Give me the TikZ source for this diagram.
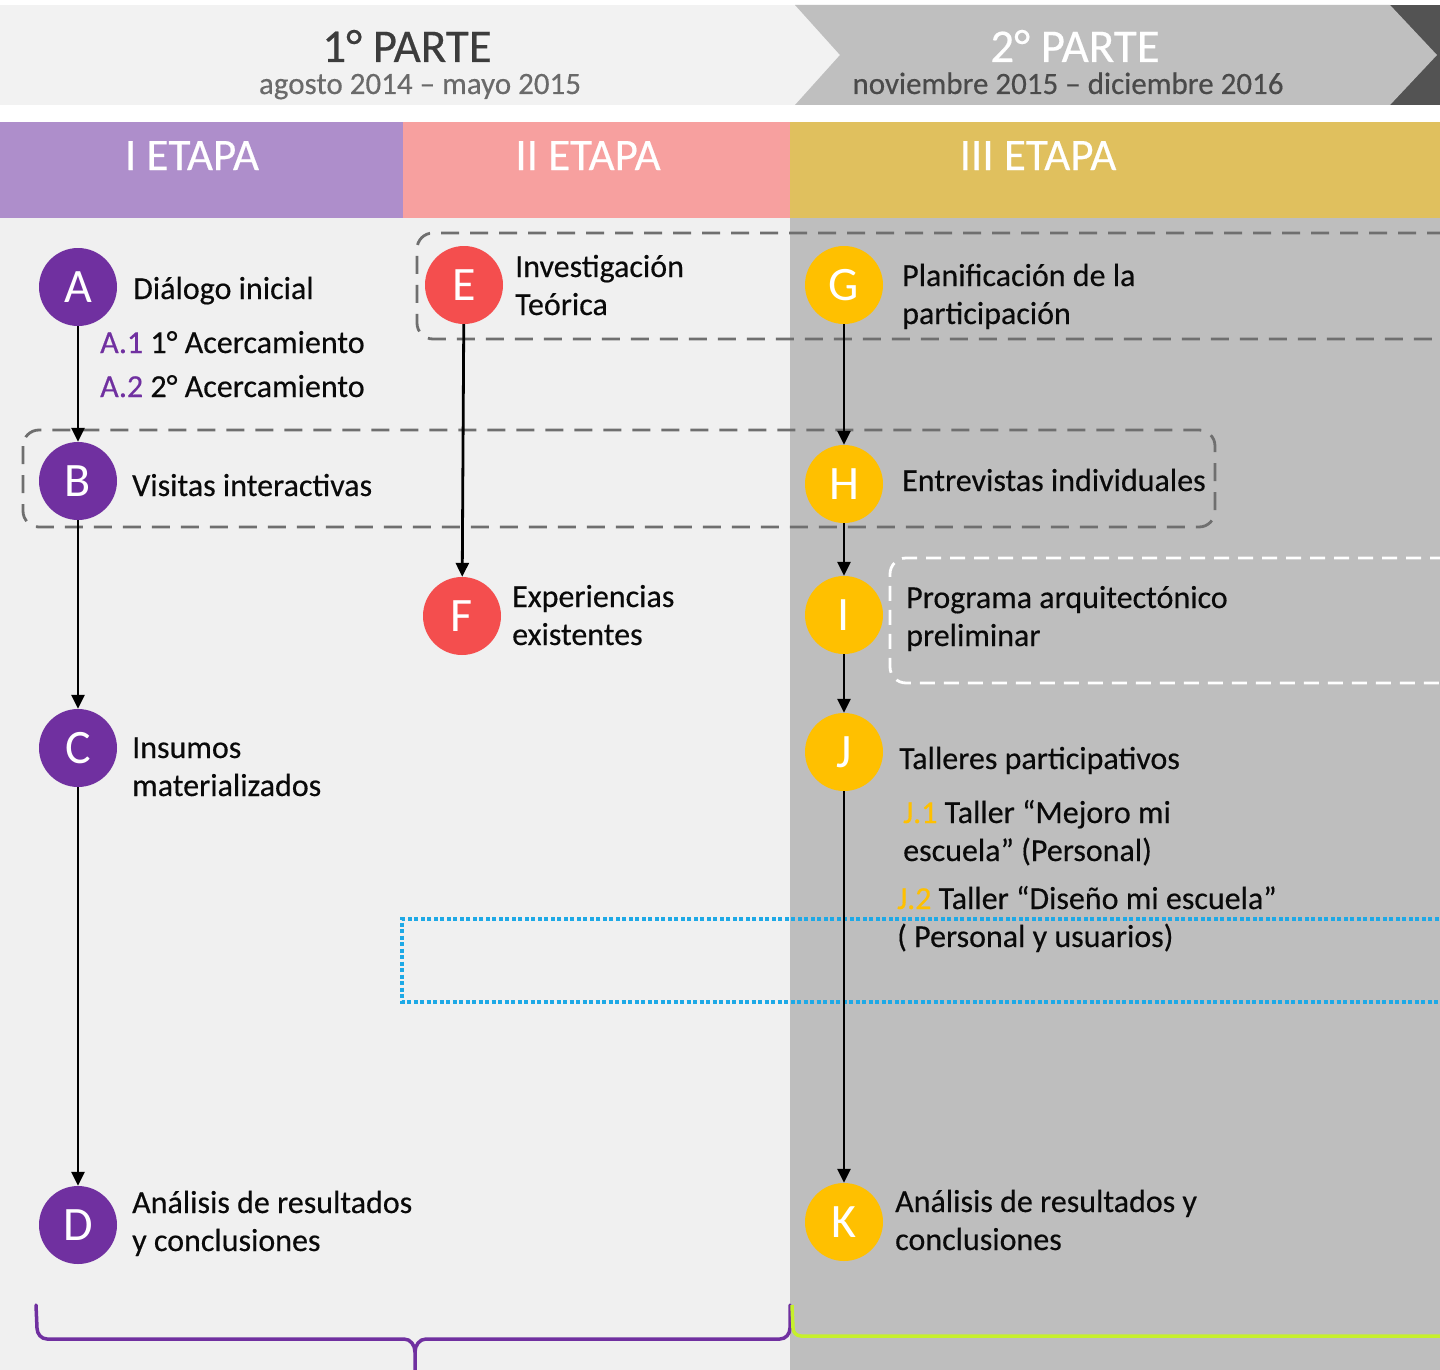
\documentclass[tikz,border=0pt]{standalone}
\usepackage{fontspec}
\setmainfont{Carlito}
\newfontfamily\thickfam{Carlito}[FakeBold=0.35]
\usetikzlibrary{arrows.meta}
\definecolor{bgL}{HTML}{F0F0F0}
\definecolor{bgR}{HTML}{BEBEBE}
\definecolor{hdr}{HTML}{F2F2F2}
\definecolor{chev}{HTML}{BFBFBF}
\definecolor{darkc}{HTML}{535353}
\definecolor{etA}{HTML}{AE8ECB}
\definecolor{etB}{HTML}{F7A09F}
\definecolor{etC}{HTML}{E0C05E}
\definecolor{purp}{HTML}{7030A0}
\definecolor{redc}{HTML}{F44E4E}
\definecolor{gold}{HTML}{FFC000}
\definecolor{txt}{HTML}{0A0A0A}
\definecolor{subg}{HTML}{6A6A6A}
\definecolor{subd}{HTML}{4A4A4A}
\definecolor{headc}{HTML}{3C3C3C}
\definecolor{dashg}{HTML}{6F6F6F}
\definecolor{bluec}{HTML}{1EA9E6}
\definecolor{limec}{HTML}{C6F02C}
\newcommand\myBody{\thickfam\fontsize{32}{38}\selectfont}
\newcommand\myCirc{\fontsize{48}{50}\selectfont}
\newcommand\myHead{\thickfam\fontsize{47}{50}\selectfont}
\newcommand\mySub{\thickfam\fontsize{31}{36}\selectfont}
\newcommand\myEtapa{\thickfam\fontsize{45}{50}\selectfont}
\newcommand\mlines[1]{\begin{tabular}[t]{@{}l@{}}#1\end{tabular}}
\begin{document}
\begin{tikzpicture}[x=1pt,y=-1pt,
  circ/.style={circle, minimum size=78pt, inner sep=0pt, text=white, font=\myCirc},
  lbl/.style={anchor=base west, inner sep=0pt, font=\myBody, text=txt},
  head/.style={anchor=base, inner sep=0pt, font=\myHead},
  subh/.style={anchor=base, inner sep=0pt, font=\mySub},
  etapa/.style={anchor=base, inner sep=0pt, font=\myEtapa, text=white},
  arr/.style={line width=2.8pt, draw=black, -{Triangle[length=14pt,width=13pt]}},
  gbox/.style={draw=dashg, line width=2.8pt, dash pattern=on 18pt off 11pt, rounded corners=16pt},
  wbox/.style={draw=white, line width=2.8pt, dash pattern=on 15pt off 9pt, rounded corners=16pt},
  bbox/.style={draw=bluec, line width=3.2pt, dash pattern=on 4pt off 2.5pt},
  brace/.style={line width=3.5pt, line cap=round, line join=round}]
\useasboundingbox (0,0) rectangle (1440,1370);
% backgrounds
\fill[white] (0,0) rectangle (1440,1370);
\fill[bgL] (0,218) rectangle (790,1370);
\fill[bgR] (790,218) rectangle (1440,1370);
\fill[hdr] (0,5) rectangle (1440,105);
\fill[darkc] (1390,5) rectangle (1440,105);
\fill[chev] (795,5) -- (1390,5) -- (1437,55) -- (1390,105) -- (795,105) -- (840,55) -- cycle;
\fill[etA] (0,122) rectangle (403,218);
\fill[etB] (403,122) rectangle (790,218);
\fill[etC] (790,122) rectangle (1440,218);
% header texts
\node[head, text=headc] (p1) at (407,62) {1° PARTE};
\node[subh, text=subg] (d1) at (420,94) {agosto 2014 – mayo 2015};
\node[head, text=white] (p2) at (1075,62) {2° PARTE};
\node[subh, text=subd] (d2) at (1068,94) {noviembre 2015 – diciembre 2016};
\node[etapa] (e1) at (192,170) {I ETAPA};
\node[etapa] (e2) at (588,170) {II ETAPA};
\node[etapa] (e3) at (1038,170) {III ETAPA};
% dashed boxes
\draw[gbox] (1445,233) -- (417,233) -- (417,339) -- (1445,339);
\draw[gbox] (23,430) rectangle (1215,527);
\draw[wbox] (1445,558) -- (890,558) -- (890,683) -- (1445,683);
\draw[bbox] (1445,919) -- (402,919) -- (402,1002) -- (1445,1002);
% circles
\node[circ, fill=purp] (A) at (78,287) {A};
\node[circ, fill=purp] (B) at (78,481) {B};
\node[circ, fill=purp] (C) at (78,748) {C};
\node[circ, fill=purp] (D) at (78,1225) {D};
\node[circ, fill=redc] (E) at (464,285) {E};
\node[circ, fill=redc] (F) at (462,616) {F};
\node[circ, fill=gold] (G) at (844,285) {G};
\node[circ, fill=gold] (H) at (844,484) {H};
\node[circ, fill=gold] (I) at (844,615) {I};
\node[circ, fill=gold] (J) at (844,752) {J};
\node[circ, fill=gold] (K) at (844,1222) {K};
% arrows
\draw[arr] (A) -- (B);
\draw[arr] (B) -- (C);
\draw[arr] (C) -- (D);
\draw[arr] (E) -- (F);
\draw[arr] (G) -- (H);
\draw[arr] (H) -- (I);
\draw[arr] (I) -- (J);
\draw[arr] (J) -- (K);
% labels
\node[lbl] (tA) at (133,299) {Diálogo inicial};
\node[lbl] (tA1) at (100,353) {\textcolor{purp}{A.1} 1° Acercamiento};
\node[lbl] (tA2) at (100,397) {\textcolor{purp}{A.2} 2° Acercamiento};
\node[lbl] (tB) at (132,496) {Visitas interactivas};
\node[lbl] (tC) at (132,758) {\mlines{Insumos\\materializados}};
\node[lbl] (tD) at (132,1213) {\mlines{Análisis de resultados\\y conclusiones}};
\node[lbl] (tE) at (515,277) {\mlines{Investigación\\Teórica}};
\node[lbl] (tF) at (512,607) {\mlines{Experiencias\\existentes}};
\node[lbl] (tG) at (902,286) {\mlines{Planificación de la\\participación}};
\node[lbl] (tH) at (902,491) {Entrevistas individuales};
\node[lbl] (tI) at (906,608) {\mlines{Programa arquitectónico\\preliminar}};
\node[lbl] (tJ) at (899,769) {Talleres participativos};
\node[lbl] (tJ1) at (903,823) {\mlines{\textcolor{gold}{J.1} Taller “Mejoro mi\\escuela” (Personal)}};
\node[lbl] (tJ2) at (897,909) {\mlines{\textcolor{gold}{J.2} Taller “Diseño mi escuela”\\( Personal y usuarios)}};
\node[lbl] (tK) at (895,1212) {\mlines{Análisis de resultados y\\conclusiones}};
% braces
\draw[brace, draw=purp] (36,1305) -- (37,1328) to[out=-90,in=180] (47,1339) -- (404,1339)
  to[out=0,in=90] (415,1352) -- (415,1372);
\draw[brace, draw=purp] (415,1352) to[out=90,in=180] (426,1339) -- (780,1339)
  to[out=0,in=-90] (790,1328) -- (790,1305);
\draw[brace, draw=limec, line cap=butt] (792,1305) -- (793,1328) to[out=-90,in=180] (801,1336) -- (1445,1336);
\end{tikzpicture}
\end{document}
